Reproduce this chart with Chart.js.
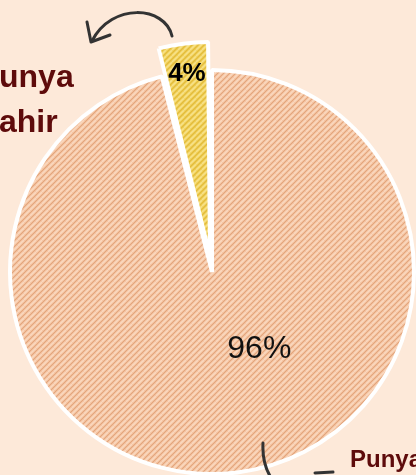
<!DOCTYPE html>
<html><head><meta charset="utf-8">
<script src="https://cdn.jsdelivr.net/npm/chart.js@4/dist/chart.umd.min.js"></script>
<style>html,body{margin:0;padding:0;background:#fde9d9;overflow:hidden}canvas{display:block}</style>
</head><body>
<canvas id="c" width="416" height="475"></canvas>
<script>
const categories = ['Punya', 'Tidak Punya'];
const values = [96, 4];
const valueLabels = ['96%', '4%'];

function makePattern(base, light, dark) {
  const t = document.createElement('canvas');
  t.width = 6; t.height = 6;
  const g = t.getContext('2d');
  g.fillStyle = base; g.fillRect(0, 0, 6, 6);
  g.strokeStyle = light; g.lineWidth = 1.6;
  for (const o of [-6, 0, 6]) { g.beginPath(); g.moveTo(o, 6); g.lineTo(o + 6, 0); g.stroke(); }
  g.strokeStyle = dark; g.lineWidth = 0.9;
  for (const o of [-3, 3, 9]) { g.beginPath(); g.moveTo(o - 6, 6); g.lineTo(o, 0); g.stroke(); }
  return document.getElementById('c').getContext('2d').createPattern(t, 'repeat');
}
const fills = [
  makePattern('#f2bf9b', '#fad8bf', '#e0a27a'),
  makePattern('#eecb4c', '#f8e38e', '#dcb43a')
];

const labelPlace = [ {frac: 0.43, r: 0.45, font: '32px "Liberation Sans"', color: '#111'},
                     {frac: 0.5, r: 0.99, font: 'bold 26px "Liberation Sans"', color: '#000'} ];

const decor = {
  id: 'decor',
  beforeDraw(chart) {
    const c = chart.ctx; c.save(); c.fillStyle = '#fde9d9'; c.fillRect(0, 0, chart.width, chart.height); c.restore();
  },
  afterDatasetsDraw(chart) {
    const c = chart.ctx;
    const meta = chart.getDatasetMeta(0);
    meta.data.forEach((arc, i) => {
      const p = labelPlace[i];
      const a = arc.startAngle + p.frac * (arc.endAngle - arc.startAngle);
      const rr = p.r * arc.outerRadius;
      c.save();
      c.font = p.font; c.fillStyle = p.color; c.textAlign = 'center'; c.textBaseline = 'middle';
      c.fillText(valueLabels[i], arc.x + Math.cos(a) * rr, arc.y + Math.sin(a) * rr);
      c.restore();
    });
  },
  afterDraw(chart) {
    const c = chart.ctx;
    c.save();
    c.fillStyle = '#5e0b0b';
    c.font = 'bold 32px "Liberation Sans"'; c.textBaseline = 'alphabetic'; c.textAlign = 'left';
    c.fillText('unya', -1, 87);
    c.fillText('ahir', -1, 132);
    c.font = 'bold 24px "Liberation Sans"';
    c.fillText('Punya', 350, 467);
    // hand-drawn arrows
    c.strokeStyle = '#333'; c.lineWidth = 3; c.lineCap = 'round'; c.lineJoin = 'round';
    c.beginPath(); c.moveTo(172, 36); c.bezierCurveTo(165, 6, 112, 2, 92, 41); c.stroke();
    c.beginPath(); c.moveTo(87, 22); c.lineTo(91, 42); c.lineTo(110, 35); c.stroke();
    c.beginPath(); c.moveTo(263, 443); c.quadraticCurveTo(262, 462, 270, 476); c.stroke();
    c.beginPath(); c.moveTo(315, 473); c.lineTo(333, 472); c.stroke();
    c.restore();
  }
};

new Chart(document.getElementById('c'), {
  type: 'pie',
  data: {
    labels: categories,
    datasets: [{
      data: values,
      backgroundColor: fills,
      borderColor: '#ffffff',
      borderWidth: 4,
      offset: [0, 64],
      clip: false
    }]
  },
  options: {
    responsive: false,
    animation: false,
    events: [],
    devicePixelRatio: 1,
    radius: 202,
    layout: { padding: { left: 8, right: 0, top: 69, bottom: 0 } },
    plugins: { legend: { display: false }, tooltip: { enabled: false } }
  },
  plugins: [decor]
});
</script>
</body></html>
